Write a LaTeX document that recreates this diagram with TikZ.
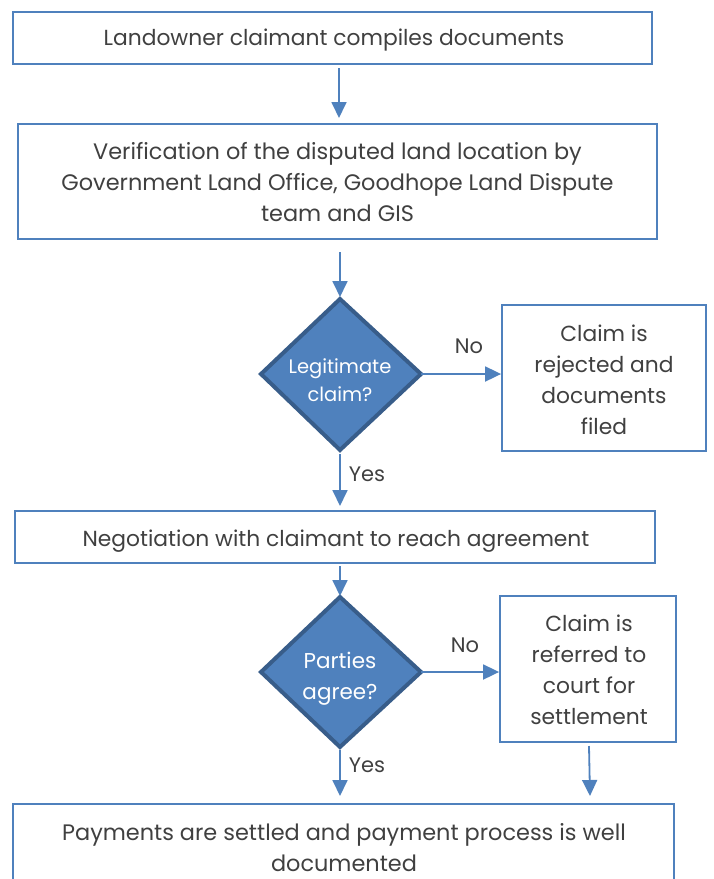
\documentclass[tikz,border=0pt]{standalone}
\usepackage{fontspec}
\setmainfont{Poppins}
\usetikzlibrary{arrows.meta,shapes.geometric}
\definecolor{boxblue}{HTML}{4F81BD}
\definecolor{darkblue}{HTML}{385D8A}
\definecolor{txt}{HTML}{404040}
\tikzset{
  procbox/.style={draw=boxblue, line width=1.8pt, fill=white, text=txt, align=center, font=\fontsize{21.8}{31}\selectfont, inner sep=0pt},
  boxtext/.style={text=txt, align=center, font=\fontsize{21.8}{31}\selectfont, inner sep=0pt},
  decis/.style={draw=darkblue, line width=4pt, fill=boxblue},
  dtext/.style={text=white, align=center, inner sep=0pt},
  flow/.style={draw=boxblue, line width=1.8pt, -{Triangle[length=16pt,width=15pt]}},
  lbl/.style={text=txt, font=\fontsize{21}{25}\selectfont}
}
\begin{document}
\begin{tikzpicture}[x=1pt,y=-1pt]
\useasboundingbox (0,0) rectangle (713,879);
\begin{scope}
\clip (0,0) rectangle (713,879);
\node[procbox, minimum width=639pt, minimum height=52pt] (b1) at (332.5,38) {};
\node[boxtext] (b1t) at (334,40) {Landowner claimant compiles documents};
\node[procbox, minimum width=639pt, minimum height=115pt] (b2) at (337.5,181.5) {};
\node[boxtext, font=\fontsize{22.4}{31}\selectfont] (b2t) at (337.5,182.5) {Verification of the disputed land location by\\Government Land Office, Goodhope Land Dispute\\team and GIS};
\path[decis] (340,299) -- (421,374) -- (340,450) -- (261,374) -- cycle;
\coordinate (d1t) at (340,299);
\coordinate (d1r) at (421,374);
\coordinate (d1b) at (340,450);
\node[dtext, font=\fontsize{19.5}{28}\selectfont] (d1) at (340,380.5) {Legitimate\\claim?};
\node[procbox, minimum width=204pt, minimum height=146pt] (b3) at (604,378) {};
\node[boxtext] (b3t) at (604,379.5) {Claim is\\rejected and\\documents\\filed};
\node[procbox, minimum width=640pt, minimum height=52pt] (b4) at (335,537) {};
\node[boxtext] (b4t) at (336,541) {Negotiation with claimant to reach agreement};
\path[decis] (340,597) -- (421,672) -- (340,747) -- (261,672) -- cycle;
\coordinate (d2t) at (340,597);
\coordinate (d2r) at (421,672);
\coordinate (d2b) at (340,747);
\node[dtext, font=\fontsize{21.5}{31}\selectfont] (d2) at (340,679) {Parties\\agree?};
\node[procbox, minimum width=176pt, minimum height=146pt] (b5) at (588,669) {};
\node[boxtext] (b5t) at (589,670) {Claim is\\referred to\\court for\\settlement};
\node[procbox, minimum width=661pt, minimum height=100pt] (b6) at (343.5,854) {};
\node[boxtext, font=\fontsize{22.4}{31}\selectfont] (b6t) at (344,847.5) {Payments are settled and payment process is well\\documented};
\coordinate (a1s) at (339,68);
\coordinate (a1e) at (339,118);
\draw[flow] (a1s) -- (a1e);
\coordinate (a2s) at (340,252);
\coordinate (a2e) at (340,297);
\draw[flow] (a2s) -- (a2e);
\draw[flow] (d1r) -- (b3.west |- d1r);
\node[lbl] (no1) at (469,346) {No};
\coordinate (a3s) at (340,454);
\coordinate (a3e) at (340,506);
\draw[flow] (a3s) -- (a3e);
\node[lbl] (yes1) at (367,474) {Yes};
\coordinate (a4s) at (340,566);
\coordinate (a4e) at (340,596);
\draw[flow] (a4s) -- (a4e);
\draw[flow] (d2r) -- (b5.west |- d2r);
\node[lbl] (no2) at (465,645) {No};
\coordinate (a5s) at (340,750);
\coordinate (a5e) at (340,796);
\draw[flow] (a5s) -- (a5e);
\node[lbl] (yes2) at (367,765) {Yes};
\coordinate (a6s) at (589,746);
\coordinate (a6e) at (590,796);
\draw[flow] (a6s) -- (a6e);
\end{scope}
\end{tikzpicture}
\end{document}
